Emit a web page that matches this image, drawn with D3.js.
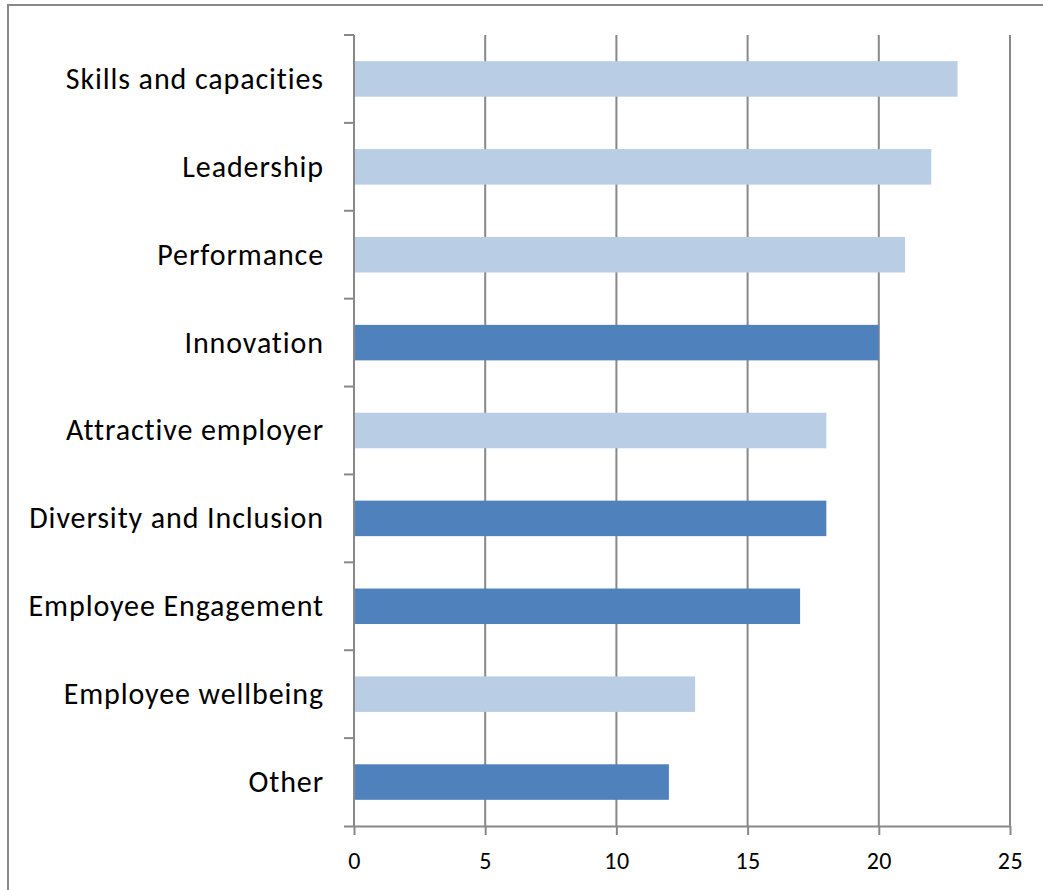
<!DOCTYPE html>
<html>
<head>
<meta charset="utf-8">
<script src="https://cdn.jsdelivr.net/npm/d3@7"></script>
<style>
  html, body { margin: 0; padding: 0; background: #fff; overflow: hidden; }
  svg { display: block; }
  text { font-family: Carlito, Calibri, "Open Sans", Lato, sans-serif; fill: #000; font-variant-ligatures: none; }
</style>
</head>
<body>
<svg id="chart" width="1043" height="890"></svg>
<script>
// Topics, top to bottom
const categories = [
  "Skills and capacities",
  "Leadership",
  "Performance",
  "Innovation",
  "Attractive employer",
  "Diversity and Inclusion",
  "Employee Engagement",
  "Employee wellbeing",
  "Other"
];
const values = [23, 22, 21, 20, 18, 18, 17, 13, 12];
// Topics drawn in the darker shade
const highlighted = ["Innovation", "Diversity and Inclusion", "Employee Engagement", "Other"];
const xTicks = [0, 5, 10, 15, 20, 25];

const svg = d3.select("#chart");
const gridColor = "#888888";
const lightBar = "#B9CDE5";
const darkBar = "#4F81BD";

// Chart frame
svg.append("rect")
  .attr("x", 8).attr("y", 5)
  .attr("width", 1100).attr("height", 1000)
  .attr("fill", "none")
  .attr("stroke", gridColor)
  .attr("stroke-width", 2);

const plot = { left: 354, right: 1010, top: 35, bottom: 826 };

const x = d3.scaleLinear().domain([0, 25]).range([plot.left, plot.right]);
const y = d3.scaleBand()
  .domain(categories)
  .range([plot.top, plot.bottom])
  .paddingInner(0.596)
  .paddingOuter(0.298);

// Vertical gridlines
svg.append("g")
  .selectAll("line")
  .data(xTicks.filter(t => t > 0))
  .join("line")
  .attr("x1", d => x(d)).attr("x2", d => x(d))
  .attr("y1", plot.top).attr("y2", plot.bottom)
  .attr("stroke", gridColor)
  .attr("stroke-width", 2);

// Bars
svg.append("g")
  .selectAll("rect")
  .data(categories)
  .join("rect")
  .attr("x", x(0))
  .attr("y", d => y(d))
  .attr("width", (d, i) => x(values[i]) - x(0))
  .attr("height", y.bandwidth())
  .attr("fill", d => highlighted.includes(d) ? darkBar : lightBar);

// X axis
const xAxis = d3.axisBottom(x)
  .tickValues(xTicks)
  .tickSize(9)
  .tickSizeOuter(0)
  .tickPadding(17);
const gx = svg.append("g")
  .attr("transform", `translate(0,${plot.bottom})`)
  .call(xAxis);
gx.select(".domain").attr("stroke", gridColor).attr("stroke-width", 2)
  .attr("d", `M${plot.left - 10},0.5H${plot.right}`);
gx.selectAll(".tick line").attr("stroke", gridColor).attr("stroke-width", 2);
gx.selectAll(".tick text")
  .style("font-size", "24px")
  .style("letter-spacing", "0.5px")
  .attr("fill", "#000");

// Y axis with ticks on category boundaries
const boundaries = d3.range(categories.length + 1).map(i => plot.top + i * y.step());
const gy = svg.append("g");
gy.append("line")
  .attr("x1", plot.left).attr("x2", plot.left)
  .attr("y1", plot.top).attr("y2", plot.bottom)
  .attr("stroke", gridColor).attr("stroke-width", 2);
gy.selectAll("line.tick")
  .data(boundaries.slice(0, -1))
  .join("line")
  .attr("class", "tick")
  .attr("x1", plot.left - 10).attr("x2", plot.left)
  .attr("y1", d => d).attr("y2", d => d)
  .attr("stroke", gridColor).attr("stroke-width", 2);

// Category labels
svg.append("g")
  .selectAll("text")
  .data(categories)
  .join("text")
  .attr("x", plot.left - 30)
  .attr("y", d => y(d) + y.bandwidth() / 2)
  .attr("dy", "0.33em")
  .attr("text-anchor", "end")
  .style("font-size", "30px")
  .style("letter-spacing", "0.9px")
  .text(d => d);
</script>
</body>
</html>
